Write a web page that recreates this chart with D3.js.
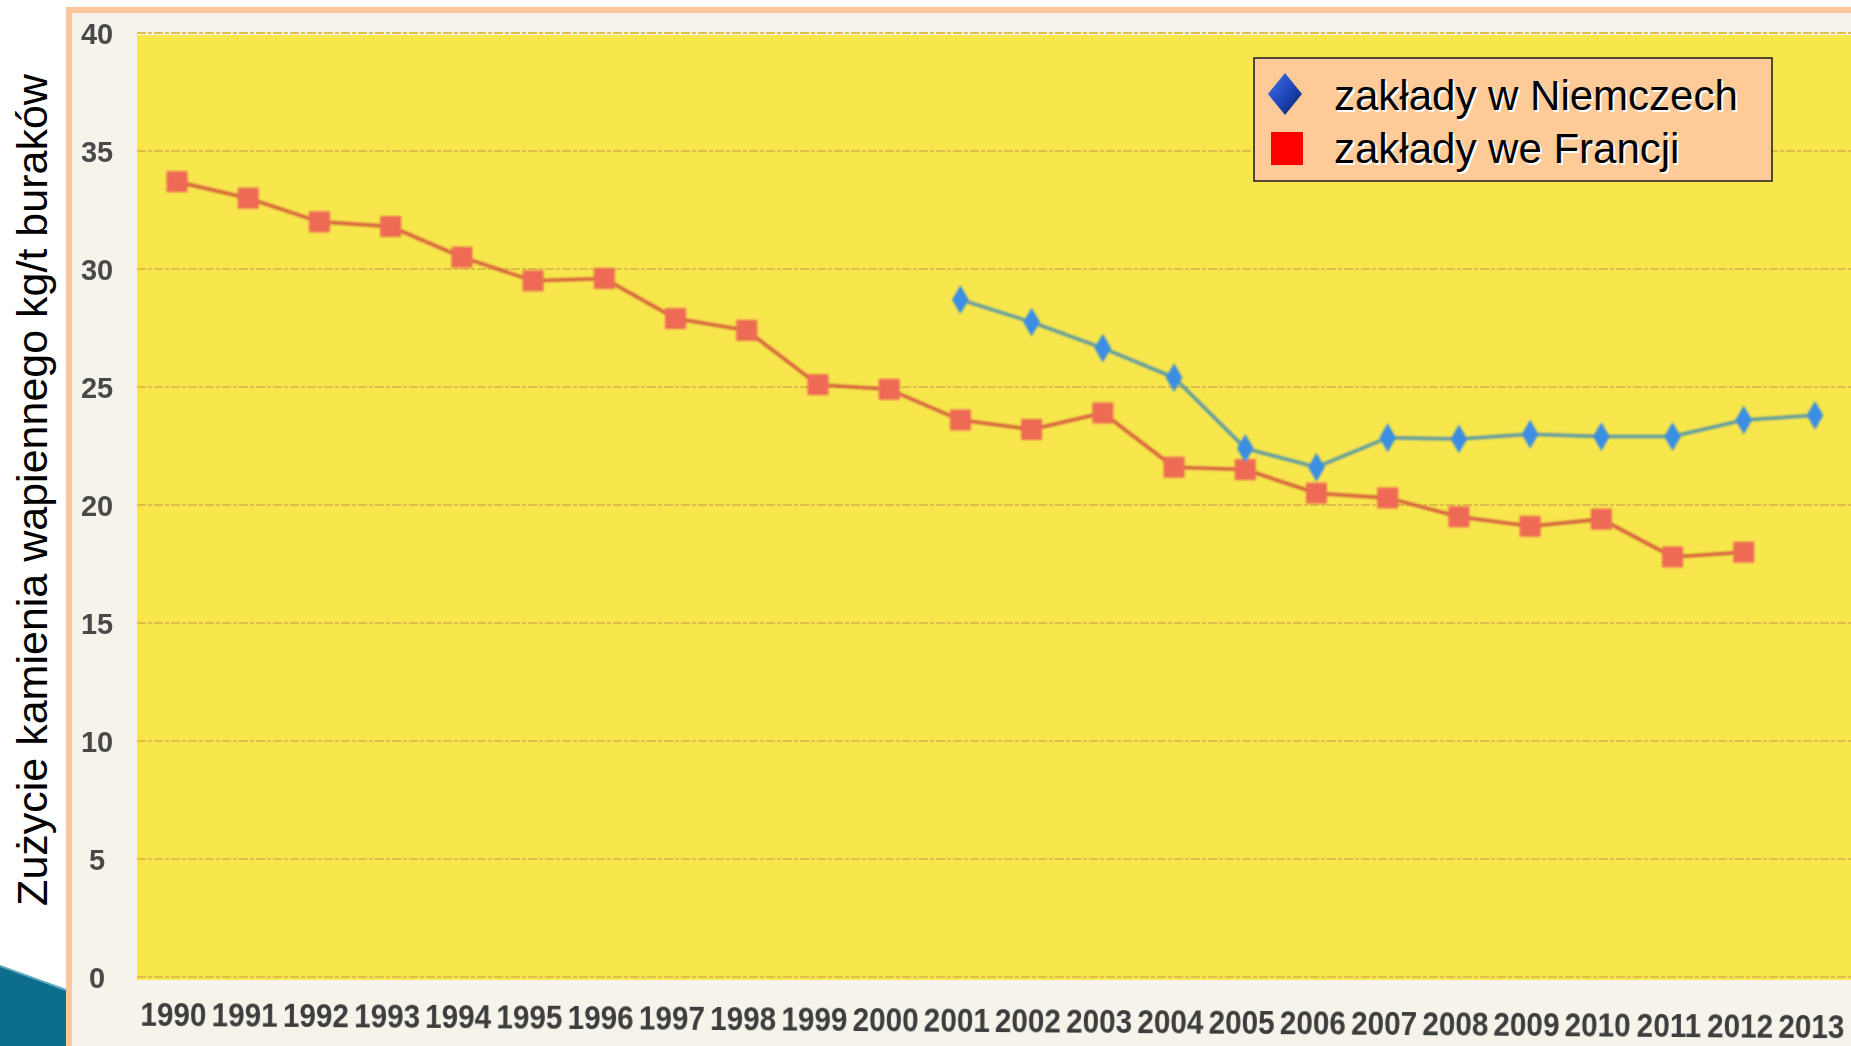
<!DOCTYPE html>
<html>
<head>
	<meta charset="utf-8">
	<title>Zużycie kamienia wapiennego</title>
	<script src="https://cdn.jsdelivr.net/npm/d3@7"></script>
	<style type="text/css">
		body {
			margin: 0;
			background: #ffffff;
		}
		.ytick text {
			font-family: "Liberation Sans", Arial, sans-serif;
			font-weight: bold;
			font-size: 29px;
			fill: #4a4a4a;
		}
		.xtick text {
			font-family: "Liberation Sans", Arial, sans-serif;
			font-weight: bold;
			font-size: 33px;
			fill: #3c3c3c;
		}
		.legend text {
			font-family: "Liberation Sans", Arial, sans-serif;
			font-size: 42px;
		}
	</style>
</head>
<body>
	<script type="text/javascript">
		// data
		var years = [1990, 1991, 1992, 1993, 1994, 1995, 1996, 1997, 1998, 1999, 2000, 2001,
			2002, 2003, 2004, 2005, 2006, 2007, 2008, 2009, 2010, 2011, 2012, 2013];
		var franceYears = [1990, 1991, 1992, 1993, 1994, 1995, 1996, 1997, 1998, 1999, 2000, 2001,
			2002, 2003, 2004, 2005, 2006, 2007, 2008, 2009, 2010, 2011, 2012];
		var franceValues = [33.7, 33.0, 32.0, 31.8, 30.5, 29.5, 29.6, 27.9, 27.4, 25.1, 24.9, 23.6,
			23.2, 23.9, 21.6, 21.5, 20.5, 20.3, 19.5, 19.1, 19.4, 17.8, 18.0];
		var germanyYears = [2001, 2002, 2003, 2004, 2005, 2006, 2007, 2008, 2009, 2010, 2011, 2012, 2013];
		var germanyValues = [28.7, 27.75, 26.65, 25.4, 22.4, 21.6, 22.85, 22.8, 23.0, 22.9, 22.9, 23.6, 23.8];
		var yTicks = [0, 5, 10, 15, 20, 25, 30, 35, 40];
		var seriesNames = ["zakłady w Niemczech", "zakłady we Francji"];
		var yTitle = "Zużycie kamienia wapiennego kg/t buraków";

		var width = 1851,
			height = 1046,
			plotLeft = 137,
			plotTop = 35,
			plotBottom = 980;

		var svg = d3.select("body")
					.append("svg")
					.attr("width", width)
					.attr("height", height);

		var defs = svg.append("defs");
		defs.append("filter")
			.attr("id", "soft")
			.append("feGaussianBlur")
			.attr("stdDeviation", 1);
		defs.append("filter")
			.attr("id", "softText")
			.append("feGaussianBlur")
			.attr("stdDeviation", 0.5);
		var grad = defs.append("linearGradient")
			.attr("id", "diamondGrad")
			.attr("x1", "0").attr("y1", "0")
			.attr("x2", "1").attr("y2", "1");
		grad.append("stop").attr("offset", "0%").attr("stop-color", "#3f74e8");
		grad.append("stop").attr("offset", "55%").attr("stop-color", "#1d44b8");
		grad.append("stop").attr("offset", "100%").attr("stop-color", "#0c1f55");

		// slide frame
		svg.append("rect")
			.attr("x", 69).attr("y", 10)
			.attr("width", width - 69).attr("height", height - 10)
			.attr("fill", "#f6f3ea");
		svg.append("line")
			.attr("x1", 69).attr("x2", 69)
			.attr("y1", 7).attr("y2", height)
			.attr("stroke", "#fcc79a").attr("stroke-width", 6);
		svg.append("line")
			.attr("x1", 66).attr("x2", width)
			.attr("y1", 10).attr("y2", 10)
			.attr("stroke", "#fcc79a").attr("stroke-width", 6);

		// corner decoration from the slide template
		svg.append("polygon")
			.attr("points", "0,966 66,990 66,1046 0,1046")
			.attr("fill", "#0d6d8c");
		svg.append("line")
			.attr("x1", 0).attr("y1", 966).attr("x2", 66).attr("y2", 990)
			.attr("stroke", "#5fa9bd").attr("stroke-width", 2);

		// plot background
		svg.append("rect")
			.attr("x", plotLeft).attr("y", plotTop)
			.attr("width", width - plotLeft).attr("height", plotBottom - plotTop)
			.attr("fill", "#f7e64c");

		var xScale = d3.scalePoint()
			.domain(years)
			.range([177, 1815]);
		var yScale = d3.scaleLinear()
			.domain([0, 40])
			.range([977, 33]);

		// gridlines
		svg.append("g")
			.selectAll("line")
			.data(yTicks)
			.enter()
			.append("line")
			.attr("x1", plotLeft)
			.attr("x2", width)
			.attr("y1", function(d) { return yScale(d); })
			.attr("y2", function(d) { return yScale(d); })
			.attr("stroke", "#dfbd4a")
			.attr("stroke-width", 2)
			.attr("stroke-dasharray", "9,2,4,2");

		// y axis labels
		var yAxis = d3.axisLeft(yScale)
			.tickValues(yTicks)
			.tickSize(0)
			.tickPadding(0);
		var yAxisG = svg.append("g")
			.attr("class", "ytick")
			.attr("filter", "url(#softText)")
			.attr("transform", "translate(97,0)")
			.call(yAxis);
		yAxisG.select(".domain").remove();
		yAxisG.selectAll("text")
			.attr("text-anchor", "middle")
			.attr("dy", "0.36em");

		// x axis labels (scan is slightly tilted, font is condensed)
		var xAxis = d3.axisBottom(xScale)
			.tickSize(0)
			.tickPadding(0);
		var xAxisG = svg.append("g")
			.attr("class", "xtick")
			.attr("filter", "url(#softText)")
			.attr("transform", "translate(-4,1001) rotate(0.42,177,0)")
			.call(xAxis);
		xAxisG.select(".domain").remove();
		xAxisG.selectAll("text")
			.attr("dy", "0.75em")
			.attr("transform", "scale(0.9,1)");

		var line = d3.line()
			.x(function(d) { return xScale(d[0]); })
			.y(function(d) { return yScale(d[1]); });

		var france = d3.zip(franceYears, franceValues);
		var germany = d3.zip(germanyYears, germanyValues);

		var marks = svg.append("g").attr("filter", "url(#soft)");

		marks.append("path")
			.datum(france)
			.attr("d", line)
			.attr("fill", "none")
			.attr("stroke", "#d6603e")
			.attr("stroke-width", 3.5);
		marks.selectAll(".sq")
			.data(france)
			.enter()
			.append("rect")
			.attr("class", "sq")
			.attr("x", function(d) { return xScale(d[0]) - 10.5; })
			.attr("y", function(d) { return yScale(d[1]) - 10.5; })
			.attr("width", 21)
			.attr("height", 21)
			.attr("fill", "#ee6a55");

		marks.append("path")
			.datum(germany)
			.attr("d", line)
			.attr("fill", "none")
			.attr("stroke", "#5f9aa4")
			.attr("stroke-width", 3.5);
		marks.selectAll(".dm")
			.data(germany)
			.enter()
			.append("path")
			.attr("class", "dm")
			.attr("d", d3.symbol().type(d3.symbolDiamond).size(240))
			.attr("transform", function(d) {
				return "translate(" + xScale(d[0]) + "," + yScale(d[1]) + ")";
			})
			.attr("fill", "#3b8ee2");

		// y title
		svg.append("text")
			.attr("transform", "translate(47,490) rotate(-90)")
			.attr("text-anchor", "middle")
			.attr("font-family", "'Liberation Sans', Arial, sans-serif")
			.attr("font-size", "43px")
			.attr("fill", "#000")
			.text(yTitle);

		// legend
		var legend = svg.append("g").attr("class", "legend");
		legend.append("rect")
			.attr("x", 1254).attr("y", 58)
			.attr("width", 518).attr("height", 123)
			.attr("fill", "#fecb98")
			.attr("stroke", "#1a1a1a")
			.attr("stroke-width", 1.5);
		legend.append("path")
			.attr("d", "M1285,73 L1302,94 L1285,115 L1268,94 Z")
			.attr("fill", "url(#diamondGrad)");
		legend.append("rect")
			.attr("x", 1271).attr("y", 132)
			.attr("width", 32).attr("height", 33)
			.attr("fill", "#ff0000");
		legend.selectAll(".shadow")
			.data(seriesNames)
			.enter()
			.append("text")
			.attr("class", "shadow")
			.attr("x", 1336)
			.attr("y", function(d, i) { return 112 + i * 53; })
			.attr("fill", "#ffffff")
			.text(function(d) { return d; });
		legend.selectAll(".label")
			.data(seriesNames)
			.enter()
			.append("text")
			.attr("class", "label")
			.attr("x", 1334)
			.attr("y", function(d, i) { return 110 + i * 53; })
			.attr("fill", "#000000")
			.text(function(d) { return d; });
	</script>
</body>
</html>
